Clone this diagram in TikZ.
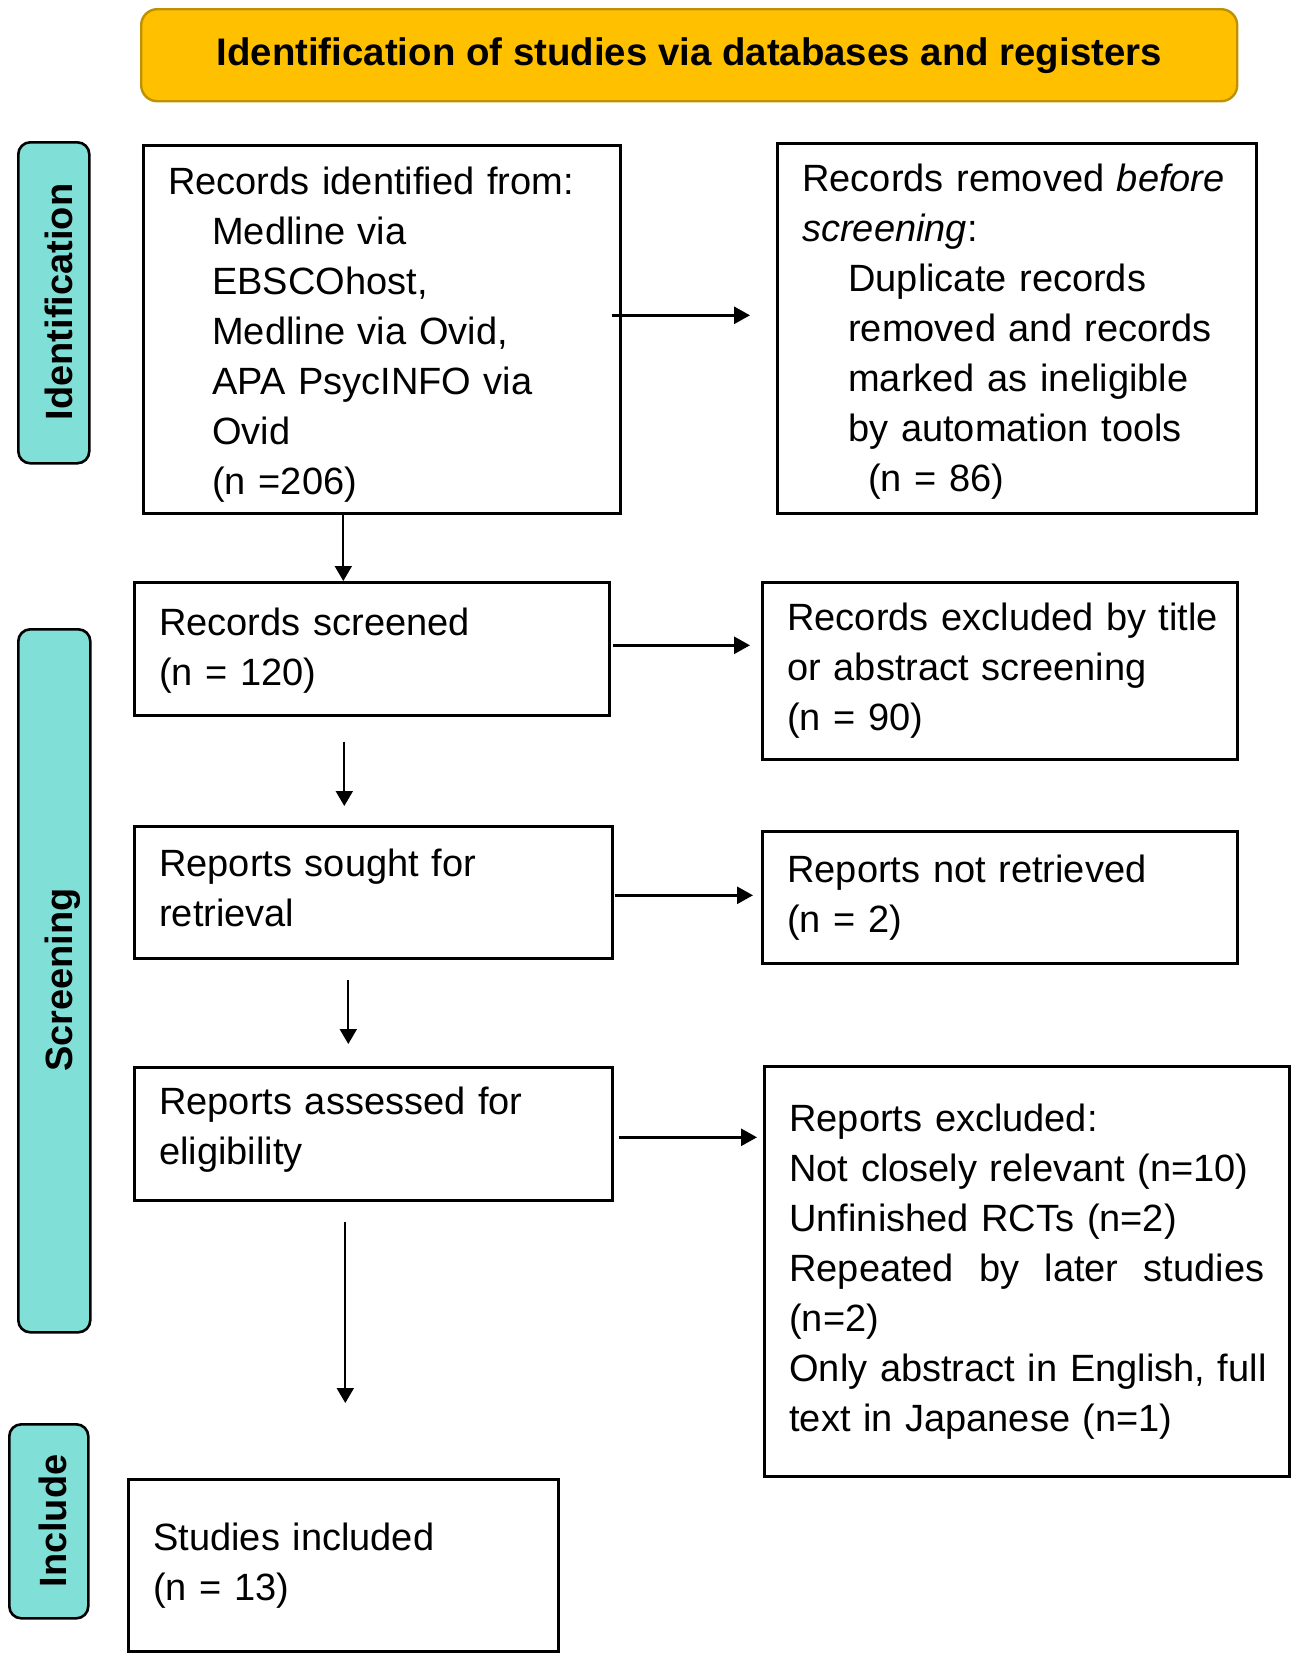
\documentclass[tikz,border=0pt]{standalone}
\usepackage{fontspec}
\setmainfont{Liberation Sans}
\usetikzlibrary{arrows.meta}
\definecolor{gold}{HTML}{FFC000}
\definecolor{goldline}{HTML}{BF9000}
\definecolor{teal}{HTML}{80E0D8}
\newcommand{\uph}[1]{\rule{0pt}{#1}}
\newcommand{\dnd}[1]{\rule[-#1]{0pt}{0pt}}
\begin{document}
\begin{tikzpicture}[x=1pt,y=1pt,
  box/.style={draw=black, line width=2.6pt, rectangle, anchor=north west,
    inner xsep=25pt, inner ysep=0pt, align=left,
    font=\fontsize{38}{50}\selectfont},
  lab/.style={draw=black, line width=2.6pt, fill=teal, rounded corners=12pt,
    rectangle, anchor=north west, inner sep=0pt},
  labtxt/.style={rotate=90, anchor=base, inner sep=0pt,
    font=\fontsize{38}{40}\selectfont\bfseries},
  harr/.style={line width=2.8pt, -{Triangle[length=16pt,width=17pt]}},
  varr/.style={line width=2pt, -{Triangle[length=15pt,width=17pt]}}]
\useasboundingbox (0,0) rectangle (1299,-1660);

% banner
\node[draw=goldline, line width=2.4pt, fill=gold, rounded corners=16pt,
  minimum width=1096pt, minimum height=92pt, anchor=north west, inner sep=0pt,
  font=\fontsize{38.4}{40}\selectfont\bfseries] (ban) at (140,-8)
  {Identification of studies via databases and registers};

% side labels
\node[lab, minimum width=71pt, minimum height=321pt] (idl) at (17,-141) {};
\node[labtxt] (idlt) at (72,-302) {Identification};
\node[lab, minimum width=72pt, minimum height=703pt] (scl) at (17,-628) {};
\node[labtxt] (sclt) at (72.5,-980) {Screening};
\node[lab, minimum width=79pt, minimum height=194pt] (inl) at (8,-1423) {};
\node[labtxt] (inlt) at (66,-1521) {Include};

% boxes
\node[box, text width=427pt, minimum height=368pt] (idf) at (142,-144)
  {\uph{38pt}Records identified from:\\
   \hspace*{44pt}Medline via\\
   \hspace*{44pt}EBSCOhost,\\
   \hspace*{44pt}Medline via Ovid,\\
   \hspace*{44pt}APA PsycINFO via\\
   \hspace*{44pt}Ovid\\
   \hspace*{44pt}(n =206)};
\node[box, text width=429pt, minimum height=370pt] (rem) at (776,-142)
  {\uph{34pt}Records removed \textit{before}\\
   \textit{screening}:\\
   \hspace*{46pt}Duplicate records\\
   \hspace*{46pt}removed and records\\
   \hspace*{46pt}marked as ineligible\\
   \hspace*{46pt}by automation tools\\
   \hspace*{66pt}(n = 86)};
\node[box, text width=425pt, minimum height=133pt] (scr) at (133,-581)
  {\uph{32pt}Records screened\\(n = 120)};
\node[box, text width=425pt, minimum height=177pt] (exc) at (761,-581)
  {\mbox{Records excluded by title}\\or abstract screening\\(n = 90)};
\node[box, text width=428pt, minimum height=132pt] (sou) at (133,-825)
  {Reports sought for\\retrieval\dnd{10pt}};
\node[box, text width=425pt, minimum height=132pt] (nr) at (761,-830)
  {Reports not retrieved\\(n = 2)};
\node[box, text width=428pt, minimum height=133pt] (ass) at (133,-1066)
  {Reports assessed for\\eligibility\dnd{16pt}};
\node[box, text width=475pt, minimum height=410pt] (rex) at (763,-1065)
  {Reports excluded:\\
   \mbox{Not closely relevant (n=10)}\\
   Unfinished RCTs (n=2)\\
   \makebox[475pt][l]{Repeated\hfill by\hfill later\hfill studies}\\
   (n=2)\\
   \mbox{Only abstract in English, full}\\
   text in Japanese (n=1)};
\node[box, text width=380pt, minimum height=172pt] (stu) at (127,-1478)
  {Studies included\\(n = 13)};

% horizontal arrows
\draw[harr, shorten <=-10pt, shorten >=26pt]
  ([yshift=14pt]idf.east) -- ([yshift=14pt]idf.east -| rem.west);
\draw[harr, shorten <=2pt, shorten >=11pt]
  ([yshift=3.5pt]scr.east) -- ([yshift=3.5pt]scr.east -| exc.west);
\draw[harr, shorten <=1pt, shorten >=8pt]
  ([yshift=-3pt]sou.east) -- ([yshift=-3pt]sou.east -| nr.west);
\draw[harr, shorten <=5pt, shorten >=6pt]
  ([yshift=-3.5pt]ass.east) -- ([yshift=-3.5pt]ass.east -| rex.west);

% vertical arrows
\draw[varr]
  ([xshift=-38.5pt]idf.south) -- ([xshift=-38.5pt]idf.south |- scr.north);
\draw[varr, shorten <=25pt, shorten >=19pt]
  ([xshift=-27.5pt]scr.south) -- ([xshift=-27.5pt]scr.south |- sou.north);
\draw[varr, shorten <=20pt, shorten >=22pt]
  ([xshift=-25pt]sou.south) -- ([xshift=-25pt]sou.south |- ass.north);
\draw[varr, shorten <=20pt, shorten >=75pt]
  ([xshift=-28pt]ass.south) -- ([xshift=-28pt]ass.south |- stu.north);
\end{tikzpicture}
\end{document}
